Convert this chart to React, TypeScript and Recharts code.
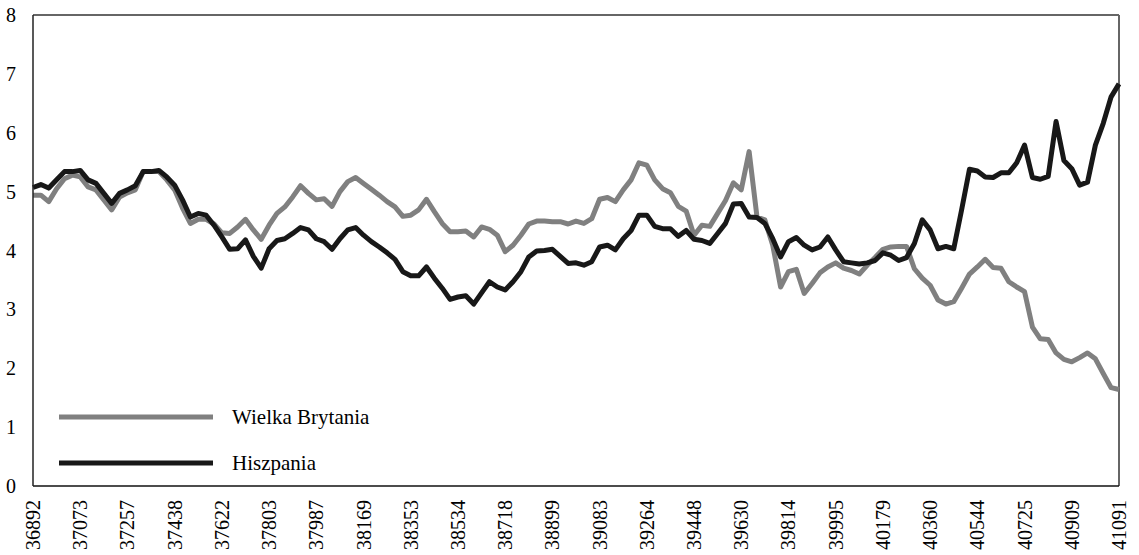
import React from 'react';
import { LineChart, Line, XAxis, YAxis, ReferenceLine, Legend } from 'recharts';

// Monthly observations (Excel date serials), Jan 2001 – Jul 2012
const dates = [
  36892, 36923, 36951, 36982, 37012, 37043, 37073, 37104, 37135, 37165, 37196, 37226,
  37257, 37288, 37316, 37347, 37377, 37408, 37438, 37469, 37500, 37530, 37561, 37591,
  37622, 37653, 37681, 37712, 37742, 37773, 37803, 37834, 37865, 37895, 37926, 37956,
  37987, 38018, 38047, 38078, 38108, 38139, 38169, 38200, 38231, 38261, 38292, 38322,
  38353, 38384, 38412, 38443, 38473, 38504, 38534, 38565, 38596, 38626, 38657, 38687,
  38718, 38749, 38777, 38808, 38838, 38869, 38899, 38930, 38961, 38991, 39022, 39052,
  39083, 39114, 39142, 39173, 39203, 39234, 39264, 39295, 39326, 39356, 39387, 39417,
  39448, 39479, 39508, 39539, 39569, 39600, 39630, 39661, 39692, 39722, 39753, 39783,
  39814, 39845, 39873, 39904, 39934, 39965, 39995, 40026, 40057, 40087, 40118, 40148,
  40179, 40210, 40238, 40269, 40299, 40330, 40360, 40391, 40422, 40452, 40483, 40513,
  40544, 40575, 40603, 40634, 40664, 40695, 40725, 40756, 40787, 40817, 40848, 40878,
  40909, 40940, 40969, 41000, 41030, 41061, 41091,
];

const tickDates = [
  36892, 37073, 37257, 37438, 37622, 37803, 37987, 38169, 38353, 38534, 38718, 38899,
  39083, 39264, 39448, 39630, 39814, 39995, 40179, 40360, 40544, 40725, 40909, 41091,
];

const yTicks = [0, 1, 2, 3, 4, 5, 6, 7, 8];

const ukName = 'Wielka Brytania';
const esName = 'Hiszpania';
const legendOrder = [ukName, esName];

const ukValues = [
  4.94, 4.94, 4.83, 5.05, 5.22, 5.28, 5.25, 5.08, 5.03, 4.86, 4.69, 4.91,
  4.98, 5.03, 5.34, 5.34, 5.34, 5.2, 5.03, 4.72, 4.46, 4.53, 4.53, 4.45,
  4.3, 4.29, 4.4, 4.53, 4.35, 4.19, 4.43, 4.63, 4.74, 4.91, 5.1, 4.97,
  4.86, 4.88, 4.75, 5.0, 5.17, 5.24, 5.14, 5.04, 4.94, 4.83, 4.74, 4.58,
  4.6, 4.69, 4.87, 4.66, 4.46, 4.32, 4.32, 4.33, 4.23, 4.4, 4.36, 4.26,
  3.98, 4.09, 4.26, 4.45, 4.5, 4.5, 4.49, 4.49, 4.45, 4.5, 4.46, 4.54,
  4.87, 4.9, 4.83, 5.03, 5.2, 5.49, 5.45, 5.2, 5.05, 4.98, 4.75, 4.67,
  4.26, 4.43, 4.41, 4.63, 4.85, 5.15, 5.03, 5.68, 4.57, 4.52, 4.09, 3.38,
  3.64, 3.68, 3.27, 3.44, 3.62, 3.72, 3.79, 3.7, 3.66, 3.6, 3.75, 3.88,
  4.02, 4.06, 4.07, 4.07, 3.69, 3.53, 3.41, 3.16, 3.09, 3.13, 3.36, 3.6,
  3.72, 3.85, 3.71, 3.7, 3.47, 3.38, 3.3, 2.7, 2.5, 2.49, 2.26, 2.15,
  2.11, 2.18, 2.26, 2.16, 1.91, 1.67, 1.64,
];

const esValues = [
  5.07, 5.12, 5.06, 5.2, 5.34, 5.34, 5.36, 5.2, 5.14, 4.97, 4.8, 4.97,
  5.03, 5.1, 5.34, 5.34, 5.36, 5.25, 5.11, 4.86, 4.57, 4.63, 4.6, 4.43,
  4.23, 4.02, 4.03, 4.18, 3.9, 3.7, 4.03, 4.17, 4.2, 4.29, 4.39, 4.35,
  4.2, 4.15, 4.02, 4.2, 4.35, 4.39, 4.26, 4.15, 4.06, 3.96, 3.85, 3.64,
  3.57, 3.57, 3.72, 3.53, 3.36, 3.17, 3.21, 3.23, 3.09, 3.28, 3.47, 3.38,
  3.33, 3.47, 3.64, 3.89, 3.99, 4.0, 4.02, 3.9, 3.78, 3.79, 3.75, 3.81,
  4.06, 4.09, 4.01, 4.2, 4.34, 4.6, 4.6, 4.41, 4.37, 4.37, 4.24, 4.34,
  4.19, 4.17, 4.12, 4.29, 4.46, 4.79, 4.8, 4.57, 4.56, 4.46, 4.2, 3.89,
  4.15, 4.22, 4.09, 4.01, 4.06, 4.23, 4.01, 3.81, 3.79, 3.77, 3.79, 3.83,
  3.96, 3.92, 3.83, 3.88, 4.12, 4.52, 4.35, 4.03, 4.07, 4.03, 4.69, 5.38,
  5.35, 5.25, 5.24, 5.32, 5.32, 5.49, 5.79, 5.24, 5.21, 5.26, 6.19, 5.53,
  5.39, 5.11, 5.16, 5.79, 6.16, 6.61, 6.83,
];

const data = dates.map((d, i) => ({ date: d, uk: ukValues[i], es: esValues[i] }));

const FONT = '"Liberation Serif", "Times New Roman", serif';

const YTick = (props: any) => {
  const { x, y, payload } = props;
  return (
    <text x={x} y={y} dy="0.35em" textAnchor="end" fontFamily={FONT} fontSize={20} fill="#000">
      {payload.value}
    </text>
  );
};

const XTick = (props: any) => {
  const { x, y, payload } = props;
  return (
    <text
      transform={`translate(${x},${y}) rotate(-90)`}
      dy="0.35em"
      textAnchor="end"
      fontFamily={FONT}
      fontSize={20}
      fill="#000"
    >
      {payload.value}
    </text>
  );
};

const LegendContent = (props: any) => {
  const items = [...(props.payload || [])].sort(
    (a: any, b: any) => legendOrder.indexOf(a.value) - legendOrder.indexOf(b.value)
  );
  return (
    <div style={{ display: 'flex', flexDirection: 'column' }}>
      {items.map((item: any) => (
        <div key={item.value} style={{ display: 'flex', alignItems: 'center', height: 46 }}>
          <svg width={154} height={6} style={{ display: 'block' }}>
            <line x1={0} y1={3} x2={154} y2={3} stroke={item.color} strokeWidth={5} />
          </svg>
          <span style={{ marginLeft: 19, fontFamily: FONT, fontSize: 21, color: '#000', lineHeight: '46px' }}>
            {item.value}
          </span>
        </div>
      ))}
    </div>
  );
};

export default function App() {
  return (
    <div style={{ position: 'absolute', left: 0, top: 0, width: 1139, height: 555, background: '#fff' }}>
      <LineChart width={1139} height={555} data={data} margin={{ top: 15, right: 20, left: 0, bottom: 0 }}>
        <XAxis
          dataKey="date"
          type="category"
          ticks={tickDates}
          interval={0}
          height={69}
          tickLine={false}
          tickSize={0}
          tickMargin={14}
          axisLine={{ stroke: '#111', strokeWidth: 1.5 }}
          tick={<XTick />}
        />
        <YAxis
          type="number"
          domain={[0, 8]}
          ticks={yTicks}
          interval={0}
          width={33}
          tickLine={false}
          tickSize={0}
          tickMargin={17}
          axisLine={{ stroke: '#222', strokeWidth: 1.5 }}
          tick={<YTick />}
        />
        <ReferenceLine y={8} stroke="#666" strokeWidth={2} />
        <ReferenceLine x={41091} stroke="#666" strokeWidth={2} />
        <Legend
          layout="vertical"
          align="center"
          verticalAlign="middle"
          content={<LegendContent />}
          wrapperStyle={{ position: 'absolute', left: 59, top: 394, width: 'auto', height: 'auto' }}
        />
        <Line
          type="linear"
          dataKey="uk"
          name={ukName}
          stroke="#808080"
          strokeWidth={5}
          dot={false}
          activeDot={false}
          strokeLinejoin="round"
          isAnimationActive={false}
        />
        <Line
          type="linear"
          dataKey="es"
          name={esName}
          stroke="#181818"
          strokeWidth={5}
          dot={false}
          activeDot={false}
          strokeLinejoin="round"
          isAnimationActive={false}
        />
      </LineChart>
    </div>
  );
}
